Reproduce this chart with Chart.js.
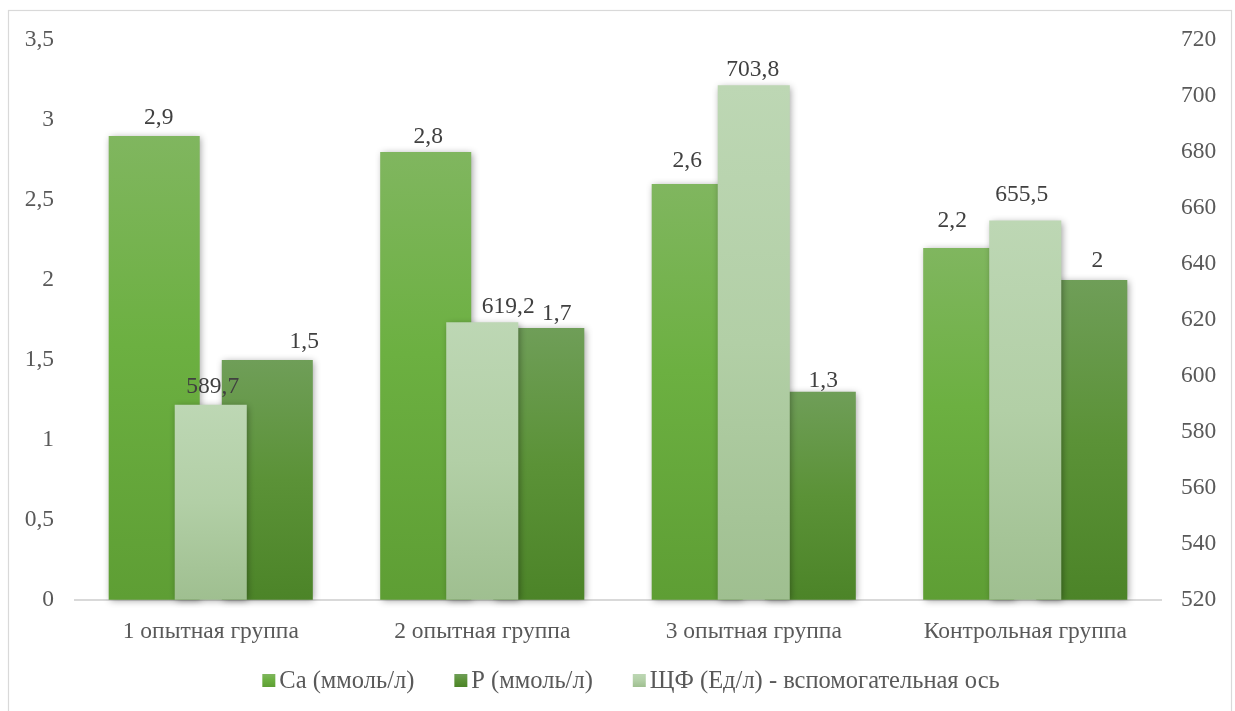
<!DOCTYPE html>
<html>
<head>
<meta charset="utf-8">
<script src="https://cdn.jsdelivr.net/npm/chart.js@4/dist/chart.umd.min.js"></script>
<style>
  html, body { margin: 0; padding: 0; background: #ffffff; }
  #wrap { width: 1235px; height: 711px; position: relative; }
</style>
</head>
<body>
<div id="wrap"><canvas id="chart" width="1235" height="711"></canvas></div>
<script>
// Group names along the category axis
const categories = ['1 опытная группа', '2 опытная группа', '3 опытная группа', 'Контрольная группа'];

// Series values
const caValues  = [2.9, 2.8, 2.6, 2.2];          // Ca, mmol/l (left axis)
const pValues   = [1.5, 1.7, 1.3, 2];            // P, mmol/l (left axis)
const alpValues = [589.7, 619.2, 703.8, 655.5];  // ЩФ, U/l (right axis)

// Series names
const seriesNames = ['Ca (ммоль/л)', 'P (ммоль/л)', 'ЩФ (Ед/л) - вспомогательная ось'];

// Axis ranges
const leftAxis  = { min: 0,   max: 3.5, step: 0.5 };
const rightAxis = { min: 520, max: 720, step: 20 };

// Gradient stops (top -> bottom) for each series
const caStops  = [[0, '#80b65f'], [0.45, '#6cb041'], [1, '#5e9e34']];
const pStops   = [[0, '#6f9e58'], [0.5, '#5b9237'], [1, '#4c8428']];
const alpStops = [[0, '#bdd7b4'], [0.5, '#b2cfa6'], [1, '#9fbf90']];

const FONT = "'Liberation Serif', 'Times New Roman', serif";
const FONT_SIZE = 23.5;
const LEGEND_SIZE = 24.5;
const fmt = v => String(v).replace('.', ',');

// Hand-placed value labels: [dx, gap above bar top] per dataset, per group
const labelNudge = [
  [[4.5, 11.7], [2.5, 9], [-10, 16.7], [-16.5, 21]],   // Ca
  [[37, 12.3], [18, 8], [13, 4.5], [15.6, 13]],        // P
  [[2, 11.3], [26, 9.3], [-1, 9.7], [-3.5, 20]]        // ЩФ
];

// Vertical gradient per bar, from its top down to the baseline
function barGradient(stops) {
  return (ctx) => {
    const chart = ctx.chart;
    const solid = stops[1][1];
    if (!chart.chartArea || ctx.type !== 'data') return solid;
    const ds = chart.data.datasets[ctx.datasetIndex];
    const scale = chart.scales[ds.yAxisID];
    if (!scale) return solid;
    const yTop = scale.getPixelForValue(ctx.raw);
    const yBase = scale.getPixelForValue(scale.min);
    const g = chart.ctx.createLinearGradient(0, yTop, 0, yBase);
    stops.forEach(([o, c]) => g.addColorStop(o, c));
    return g;
  };
}

// Soft outer shadow behind every bar
const barShadow = {
  id: 'barShadow',
  beforeDatasetDraw(chart) {
    const c = chart.ctx;
    c.save();
    c.shadowColor = 'rgba(0,0,0,0.38)';
    c.shadowBlur = 7;
    c.shadowOffsetX = 1.5;
    c.shadowOffsetY = 1.5;
  },
  afterDatasetDraw(chart) {
    chart.ctx.restore();
  }
};

// Value labels above the bars
const valueLabels = {
  id: 'valueLabels',
  afterDatasetsDraw(chart) {
    const c = chart.ctx;
    c.save();
    c.font = FONT_SIZE + 'px ' + FONT;
    c.fillStyle = '#404040';
    c.textAlign = 'center';
    c.textBaseline = 'alphabetic';
    chart.data.datasets.forEach((ds, di) => {
      const meta = chart.getDatasetMeta(di);
      meta.data.forEach((el, i) => {
        const [dx, gap] = labelNudge[di][i];
        c.fillText(fmt(ds.data[i]), el.x + dx, el.y - gap);
      });
    });
    c.restore();
  }
};

// Legend row under the category labels: Ca, P, ЩФ
const legendRow = {
  id: 'legendRow',
  afterDraw(chart) {
    const c = chart.ctx;
    const order = [0, 1, 2];
    const stopsFor = [caStops, pStops, alpStops];
    const box = 13, gapText = 4, gapItem = 40, centerX = 631, baseY = 688;
    c.save();
    c.font = LEGEND_SIZE + 'px ' + FONT;
    c.textBaseline = 'alphabetic';
    c.textAlign = 'left';
    const widths = order.map(i => box + gapText + c.measureText(chart.data.datasets[i].label).width);
    const total = widths.reduce((a, b) => a + b, 0) + gapItem * (order.length - 1);
    let x = centerX - total / 2;
    order.forEach((i, k) => {
      const top = baseY - 14;
      const g = c.createLinearGradient(0, top, 0, top + box);
      stopsFor[i].forEach(([o, col]) => g.addColorStop(o, col));
      c.fillStyle = g;
      c.fillRect(x, top, box, box);
      c.fillStyle = '#595959';
      c.fillText(chart.data.datasets[i].label, x + box + gapText, baseY);
      x += widths[k] + gapItem;
    });
    c.restore();
  }
};

// Light frame around the chart
const frame = {
  id: 'frame',
  beforeDraw(chart) {
    const c = chart.ctx;
    c.save();
    c.fillStyle = '#ffffff';
    c.fillRect(0, 0, chart.width, chart.height);
    c.strokeStyle = '#d9d9d9';
    c.lineWidth = 1.2;
    c.strokeRect(8.5, 10.5, 1223, 720);
    c.restore();
  }
};

new Chart(document.getElementById('chart'), {
  type: 'bar',
  data: {
    labels: categories,
    datasets: [
      {
        label: seriesNames[0],
        data: caValues,
        yAxisID: 'y',
        backgroundColor: barGradient(caStops),
        categoryPercentage: 0.833,
        barPercentage: 0.805,
        order: 0,
        clip: false
      },
      {
        label: seriesNames[1],
        data: pValues,
        yAxisID: 'y',
        backgroundColor: barGradient(pStops),
        categoryPercentage: 0.833,
        barPercentage: 0.805,
        order: 0,
        clip: false
      },
      {
        label: seriesNames[2],
        data: alpValues,
        yAxisID: 'y2',
        base: rightAxis.min,
        backgroundColor: barGradient(alpStops),
        grouped: false,
        categoryPercentage: 1,
        barPercentage: 0.2654,
        order: -1,
        clip: false
      }
    ]
  },
  options: {
    responsive: false,
    animation: false,
    devicePixelRatio: 1,
    layout: { padding: { top: 40, left: 0, right: 0, bottom: 47 } },
    plugins: {
      tooltip: { enabled: false },
      legend: { display: false }
    },
    scales: {
      x: {
        grid: { display: false, drawTicks: false },
        border: { display: true, color: '#d9d9d9', width: 2 },
        ticks: { color: '#595959', font: { family: FONT, size: FONT_SIZE }, padding: 18 }
      },
      y: {
        position: 'left',
        min: leftAxis.min,
        max: leftAxis.max,
        grid: { display: false, drawTicks: false },
        border: { display: false },
        ticks: {
          stepSize: leftAxis.step,
          color: '#595959',
          font: { family: FONT, size: FONT_SIZE },
          padding: 21,
          callback: v => fmt(v)
        },
        afterFit: s => { s.width = 75; }
      },
      y2: {
        position: 'right',
        min: rightAxis.min,
        max: rightAxis.max,
        grid: { display: false, drawTicks: false },
        border: { display: false },
        ticks: {
          stepSize: rightAxis.step,
          color: '#595959',
          font: { family: FONT, size: FONT_SIZE },
          padding: 20,
          callback: v => fmt(v)
        },
        afterFit: s => { s.width = 74; }
      }
    }
  },
  plugins: [frame, barShadow, valueLabels, legendRow]
});
</script>
</body>
</html>
